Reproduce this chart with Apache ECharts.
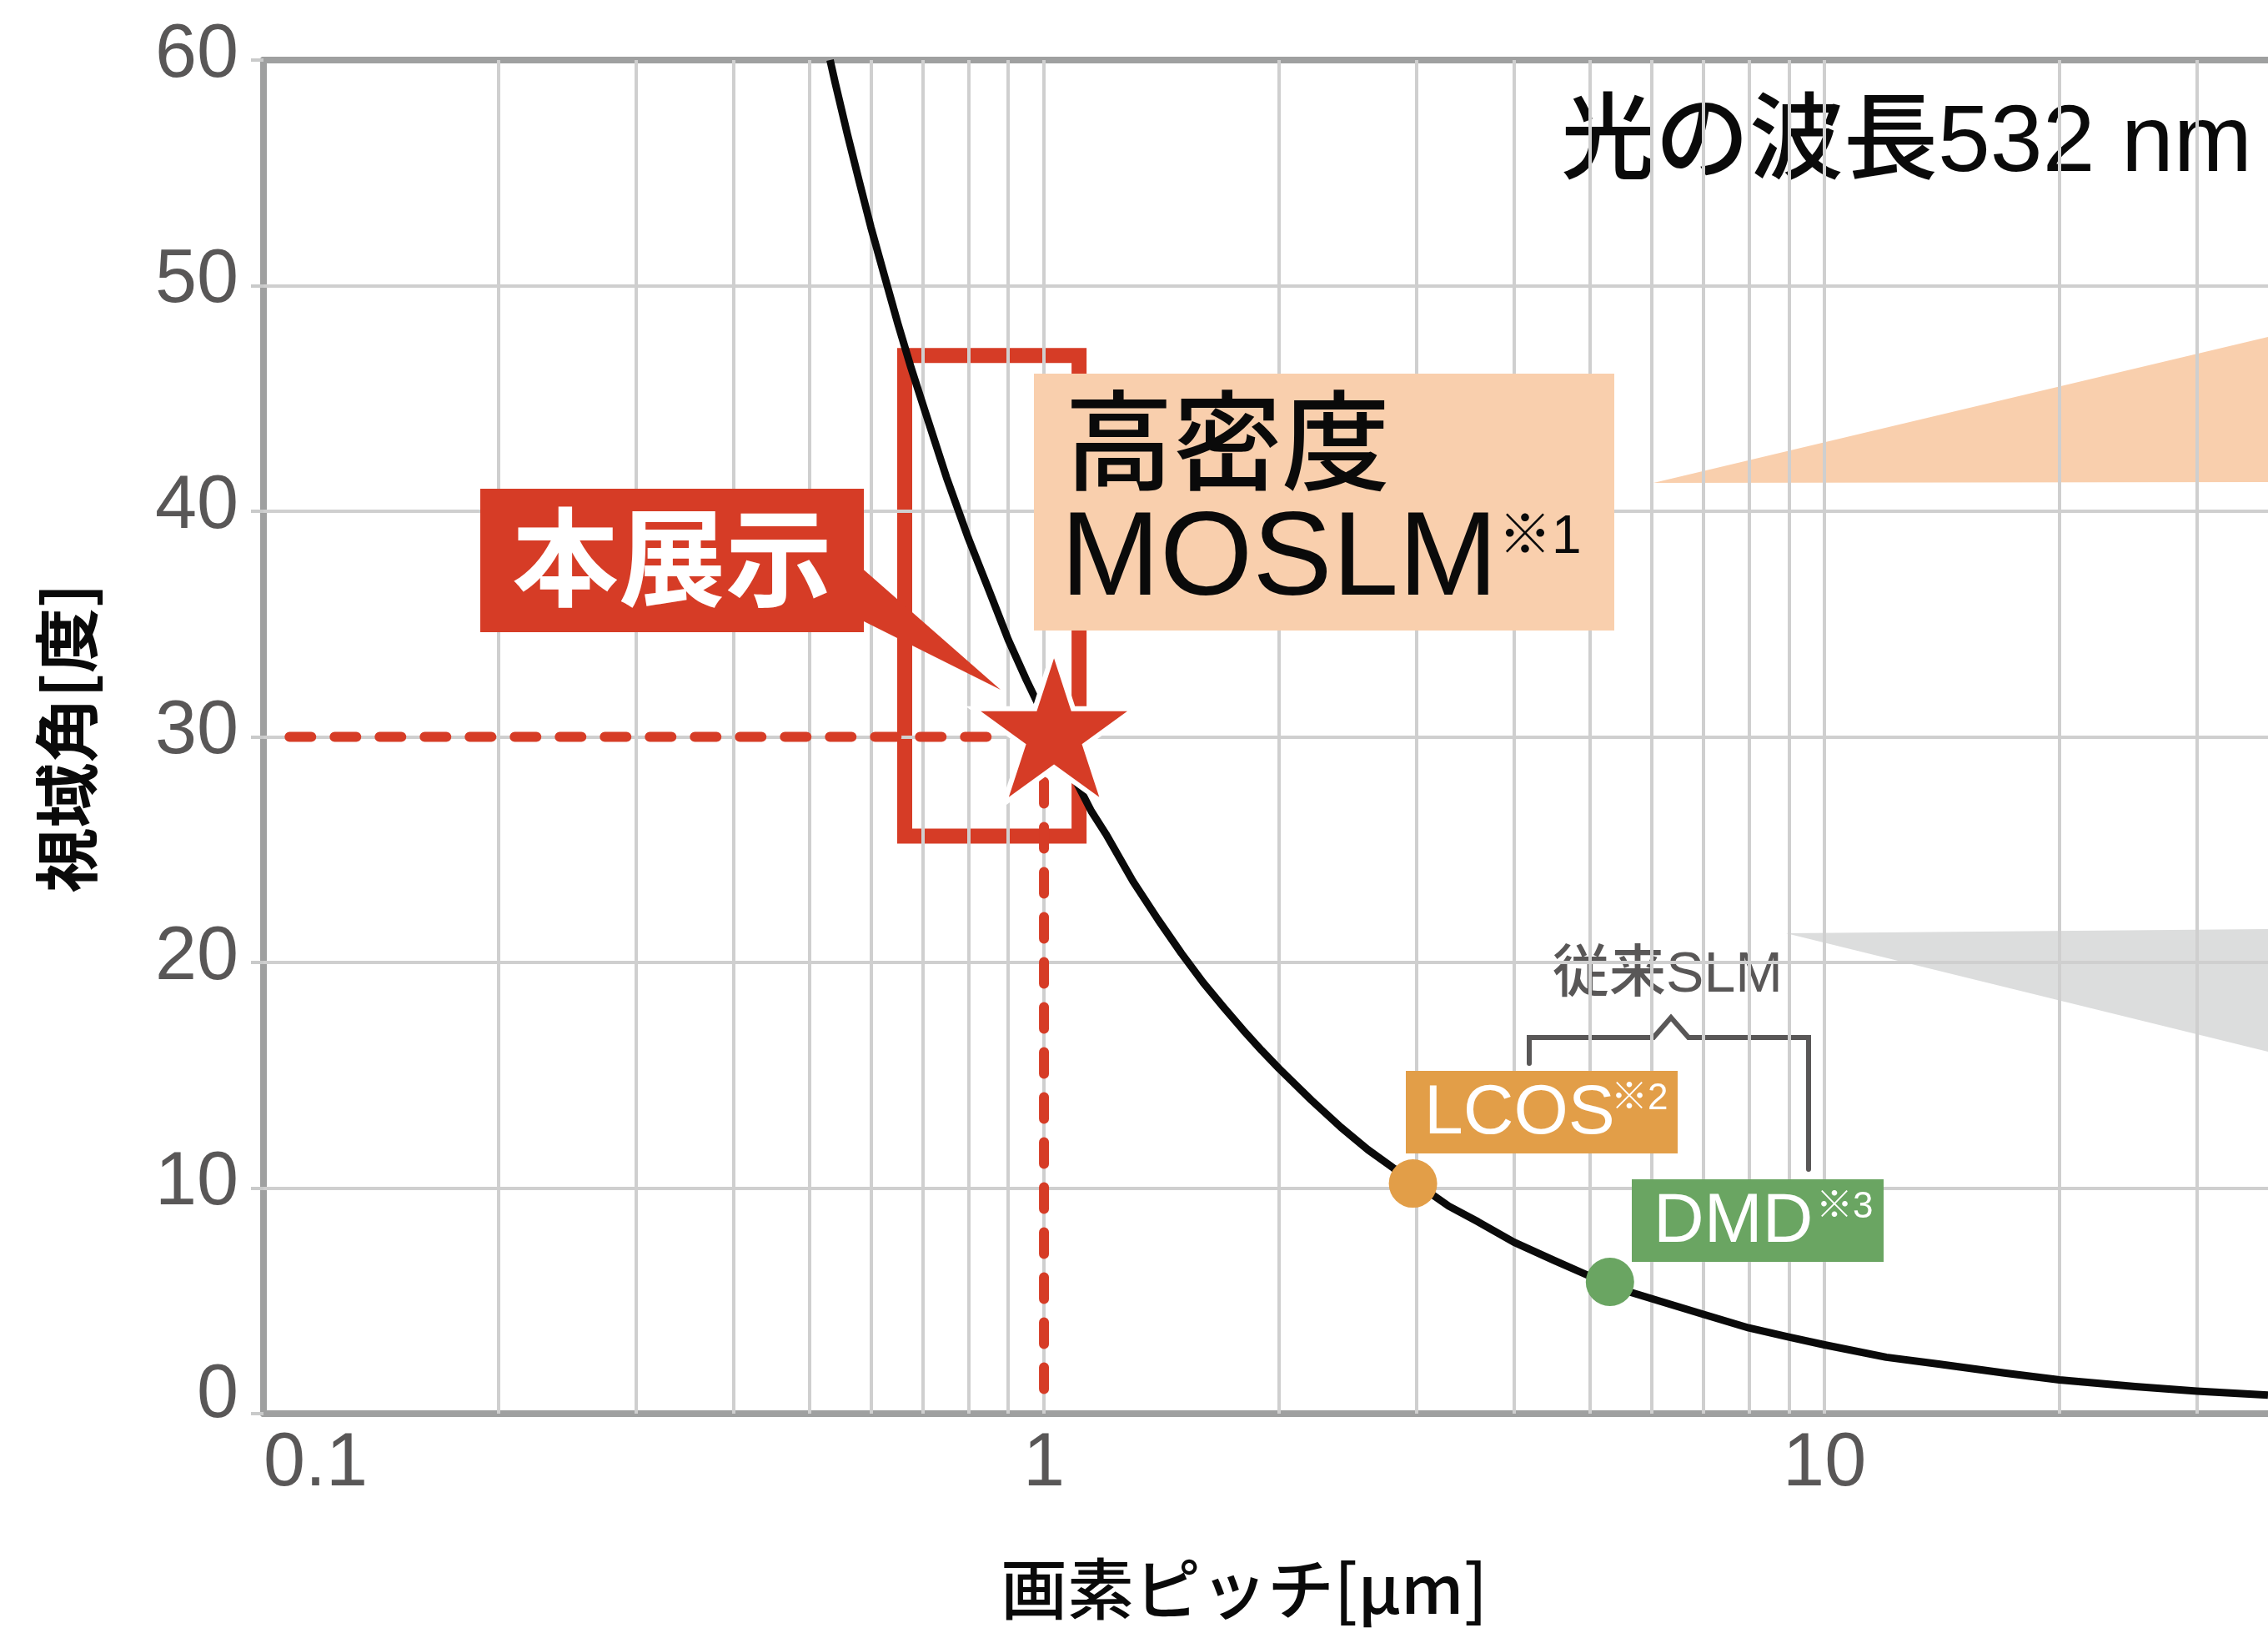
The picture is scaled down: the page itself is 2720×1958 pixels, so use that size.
<!DOCTYPE html>
<html><head><meta charset="utf-8">
<script src="https://cdn.jsdelivr.net/npm/echarts@6/dist/echarts.min.js"></script>
<style>html,body{margin:0;padding:0;background:#fff}#c{width:2720px;height:1958px}</style>
</head><body><div id="c"></div>
<script>
// ---- data ----
const pitch     = [0.532, 0.54, 0.56, 0.58, 0.6, 0.625, 0.65, 0.675, 0.7, 0.75, 0.8, 0.85, 0.9, 0.95, 1.0, 1.05, 1.1, 1.15, 1.2, 1.3, 1.4, 1.5, 1.6, 1.7, 1.8, 1.9, 2.0, 2.2, 2.4, 2.6, 2.8, 3.0, 3.3, 3.6, 4.0, 4.5, 5.0, 5.5, 6.0, 7.0, 8.0, 9.0, 10, 12, 14, 17, 20, 25, 30, 37];
const viewAngle = [60.0, 59.0, 56.7, 54.6, 52.6, 50.4, 48.3, 46.4, 44.7, 41.5, 38.8, 36.5, 34.3, 32.5, 30.9, 29.4, 28.0, 26.7, 25.7, 23.6, 21.9, 20.4, 19.1, 18.0, 17.0, 16.1, 15.3, 13.9, 12.7, 11.7, 10.9, 10.2, 9.2, 8.5, 7.6, 6.8, 6.1, 5.5, 5.1, 4.4, 3.8, 3.4, 3.05, 2.5, 2.2, 1.8, 1.5, 1.2, 1.0, 0.82];
const xTickLabels = ['0.1', '1', '10'];
const yTickLabels = ['0', '10', '20', '30', '40', '50', '60'];
const pitchGrid = [0.2, 0.3, 0.4, 0.5, 0.6, 0.7, 0.8, 0.9, 1, 2, 3, 4, 5, 6, 7, 8, 9, 10, 20, 30];
const angleGrid = [10, 20, 30, 40, 50];
const thisWork = [1.03, 30];       // 本展示 star
const lcosPoint = [2.97, 10.2];    // LCOS
const dmdPoint  = [5.31, 5.84];    // DMD
const focusPitchRange = [0.663, 1.109];
const focusAngleRange = [25.6, 46.9];
const guideH = [[0.108, 30], [0.9, 30]];
const guideV = [[1.0, 30], [1.0, 0.8]];

const LAT = "'Liberation Sans','Noto Sans CJK JP',sans-serif";
const JP  = "'Noto Sans CJK JP','Liberation Sans',sans-serif";
const RED = '#d63c26', PEACH = '#f9cfad', GRID = '#cfcfcf', AXIS = '#9fa0a0', LABEL = '#595757';

const curve = pitch.map((p, i) => [p, viewAngle[i]]);
const rect = [
  [focusPitchRange[0], focusAngleRange[1]], [focusPitchRange[1], focusAngleRange[1]],
  [focusPitchRange[1], focusAngleRange[0]], [focusPitchRange[0], focusAngleRange[0]],
  [focusPitchRange[0], focusAngleRange[1]]
];
const starPath = 'path://M0,-100 L22.5,-30.9 L95.1,-30.9 L36.3,11.8 L58.8,80.9 L0,38.2 L-58.8,80.9 L-36.3,11.8 L-95.1,-30.9 L-22.5,-30.9 Z';

const xFmt = v => { const t = xTickLabels.find(l => Math.abs(+l - v) < 1e-6 * Math.max(1, v)); return t || ''; };
const yFmt = v => { const t = yTickLabels[Math.round(v / 10)]; if (t === undefined) return ''; return (v === 0 ? '{z|' : '{n|') + t + '}'; };

const chart = echarts.init(document.getElementById('c'), null, {renderer: 'canvas'});
chart.setOption({
  animation: false,
  backgroundColor: '#fff',
  grid: {left: 316, top: 72, right: 0, bottom: 263, containLabel: false},
  xAxis: [{
    type: 'log', logBase: 10, min: 0.1, max: 37, z: 3,
    axisLine: {show: true, lineStyle: {color: AXIS, width: 8}},
    axisTick: {show: false},
    splitLine: {show: false},
    minorTick: {show: false}, minorSplitLine: {show: false},
    axisLabel: {formatter: xFmt, color: LABEL, fontSize: 90, fontFamily: LAT, margin: 16,
                alignMinLabel: 'left', showMaxLabel: false}
  }, {
    type: 'log', logBase: 10, min: 0.1, max: 37, position: 'top', z: 3,
    axisLine: {show: true, lineStyle: {color: AXIS, width: 8}},
    axisTick: {show: false}, axisLabel: {show: false}, splitLine: {show: false}
  }],
  yAxis: {
    type: 'value', min: 0, max: 60, interval: 10, z: 3,
    axisLine: {show: true, lineStyle: {color: AXIS, width: 8}},
    axisTick: {show: true, length: 15, lineStyle: {color: '#c9caca', width: 4}},
    splitLine: {show: false},
    axisLabel: {formatter: yFmt, color: LABEL, fontSize: 90, fontFamily: LAT, margin: 30,
                rich: {n: {fontSize: 90, fontFamily: LAT, color: LABEL, padding: [0, 0, 10, 0]},
                       z: {fontSize: 90, fontFamily: LAT, color: LABEL, padding: [0, 0, 42, 0]}}}
  },
  series: [
    {
      type: 'line', data: [], z: 1, silent: true,
      markLine: {
        silent: true, symbol: ['none', 'none'], label: {show: false}, animation: false,
        lineStyle: {color: GRID, width: 4, type: 'solid'}, emphasis: {disabled: true},
        data: pitchGrid.map(v => ({xAxis: v})).concat(angleGrid.map(v => ({yAxis: v})))
      }
    },
    {type: 'line', data: rect, z: 4, symbol: 'none', silent: true,
     lineStyle: {color: RED, width: 18, cap: 'square', join: 'miter'}},
    {type: 'line', data: curve, z: 5, symbol: 'none', smooth: false, silent: true,
     lineStyle: {color: '#0a0a0a', width: 9, join: 'round'}},
    {type: 'line', data: guideH, z: 5, symbol: 'none', silent: true,
     lineStyle: {color: RED, width: 12, type: [26, 28], cap: 'round'}},
    {type: 'line', data: guideV, z: 5, symbol: 'none', silent: true,
     lineStyle: {color: RED, width: 12, type: [26, 28], cap: 'round'}},
    {type: 'scatter', data: [lcosPoint], z: 6, symbol: 'circle', symbolSize: 58, silent: true,
     itemStyle: {color: '#e29e48', opacity: 1}},
    {type: 'scatter', data: [dmdPoint], z: 6, symbol: 'circle', symbolSize: 58, silent: true,
     itemStyle: {color: '#6aa562', opacity: 1}},
    {type: 'scatter', data: [thisWork], z: 8, symbol: starPath, symbolSize: [194, 184], symbolOffset: [0, -12], silent: true,
     itemStyle: {color: RED, borderColor: '#fff', borderWidth: 6, opacity: 1}}
  ],
  graphic: [
    // wedges
    {type: 'polygon', z: 2, silent: true, shape: {points: [[1983, 579], [2720, 404], [2720, 578]]}, style: {fill: PEACH}},
    {type: 'polygon', z: 2, silent: true, shape: {points: [[2142, 1119], [2720, 1114], [2720, 1261]]}, style: {fill: '#dcdddd'}},
    // title
    {type: 'text', z: 2, x: 1862, y: 174, silent: true,
     style: {text: '光の波長532 nm', fontSize: 113, fontWeight: 500, fontFamily: LAT, fill: '#0a0a0a', align: 'left', verticalAlign: 'middle',
             backgroundColor: '#fff', padding: [12, 10, 12, 10]}},
    // 本展示
    {type: 'rect', z: 6, silent: true, shape: {x: 576, y: 586, width: 460, height: 172}, style: {fill: RED}},
    {type: 'polygon', z: 6, silent: true, shape: {points: [[1030, 678], [1030, 742], [1200, 827]]}, style: {fill: RED}},
    {type: 'text', z: 7, x: 806, y: 668, silent: true,
     style: {text: '本展示', fontSize: 128, fontWeight: 'bold', fontFamily: JP, fill: '#fff', align: 'center', verticalAlign: 'middle'}},
    // 高密度 MOSLM
    {type: 'rect', z: 6, silent: true, shape: {x: 1240, y: 448, width: 696, height: 308}, style: {fill: PEACH}},
    {type: 'text', z: 7, x: 1277, y: 528, silent: true,
     style: {text: '高密度', fontSize: 130, fontWeight: 500, fontFamily: JP, fill: '#0a0a0a', align: 'left', verticalAlign: 'middle'}},
    {type: 'text', z: 7, x: 1272, y: 674, silent: true,
     style: {text: 'MOSLM', fontSize: 143, fontFamily: LAT, fill: '#0a0a0a', align: 'left', verticalAlign: 'middle'}},
    {type: 'text', z: 7, x: 1797, y: 645, silent: true,
     style: {text: '※1', fontSize: 64, fontFamily: LAT, fill: '#0a0a0a', align: 'left', verticalAlign: 'middle'}},
    // 従来SLM with bracket
    {type: 'text', z: 2, x: 2000, y: 1170, silent: true,
     style: {text: '従来SLM', fontSize: 68, fontWeight: 500, fontFamily: LAT, fill: LABEL, align: 'center', verticalAlign: 'middle',
             backgroundColor: '#fff', padding: [6, 10, 6, 10]}},
    {type: 'polyline', z: 2, silent: true,
     shape: {points: [[1834, 1275], [1834, 1244], [1983, 1244], [2004, 1220], [2025, 1244], [2169, 1244], [2169, 1402]]},
     style: {stroke: LABEL, lineWidth: 6, fill: null, lineCap: 'round', lineJoin: 'miter'}},
    // LCOS
    {type: 'rect', z: 6, silent: true, shape: {x: 1686, y: 1284, width: 326, height: 99}, style: {fill: '#e29e48'}},
    {type: 'text', z: 7, x: 1708, y: 1336, silent: true,
     style: {text: 'LCOS', fontSize: 84, fontFamily: LAT, fill: '#fff', align: 'left', verticalAlign: 'middle'}},
    {type: 'text', z: 7, x: 1932, y: 1318, silent: true,
     style: {text: '※2', fontSize: 44, fontFamily: LAT, fill: '#fff', align: 'left', verticalAlign: 'middle'}},
    // DMD
    {type: 'rect', z: 6, silent: true, shape: {x: 1957, y: 1414, width: 302, height: 99}, style: {fill: '#6aa562'}},
    {type: 'text', z: 7, x: 1983, y: 1466, silent: true,
     style: {text: 'DMD', fontSize: 84, fontFamily: LAT, fill: '#fff', align: 'left', verticalAlign: 'middle'}},
    {type: 'text', z: 7, x: 2178, y: 1448, silent: true,
     style: {text: '※3', fontSize: 44, fontFamily: LAT, fill: '#fff', align: 'left', verticalAlign: 'middle'}},
    // axis names
    {type: 'text', z: 7, x: 80, y: 885, rotation: Math.PI / 2, silent: true,
     style: {text: '視域角[度]', fontSize: 78, fontWeight: 'bold', fontFamily: JP, fill: '#0a0a0a', align: 'center', verticalAlign: 'middle'}},
    {type: 'text', z: 7, x: 1492, y: 1905, silent: true,
     style: {text: '画素ピッチ[μm]', fontSize: 80, fontWeight: 500, fontFamily: JP, fill: '#0a0a0a', align: 'center', verticalAlign: 'middle'}}
  ]
});
</script>
</body></html>
